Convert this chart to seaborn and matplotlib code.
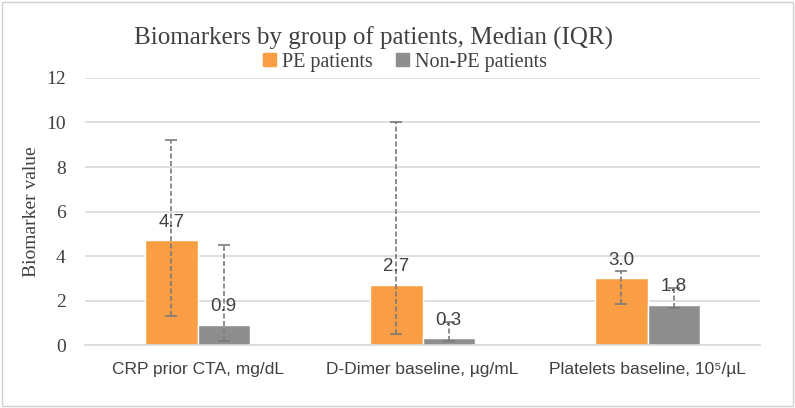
import matplotlib
matplotlib.use("Agg")
import matplotlib.pyplot as plt
import seaborn as sns
import pandas as pd
import numpy as np
from matplotlib.patches import Patch

categories = ["CRP prior CTA, mg/dL", "D-Dimer baseline, µg/mL", "Platelets baseline, 10⁵/µL"]
groups = ["PE patients", "Non-PE patients"]
pe_median = [4.7, 2.7, 3.0]
nonpe_median = [0.9, 0.3, 1.8]
pe_q1 = [1.3, 0.5, 1.85]
pe_q3 = [9.2, 10.0, 3.35]
nonpe_q1 = [0.2, 0.2, 1.65]
nonpe_q3 = [4.5, 1.05, 2.55]
yticks = [0, 2, 4, 6, 8, 10, 12]

sns.set_theme(style="white")
plt.rcParams['font.family'] = ['Liberation Sans', 'DejaVu Sans']

df = pd.DataFrame({
    "category": categories * 2,
    "group": [groups[0]] * 3 + [groups[1]] * 3,
    "value": pe_median + nonpe_median,
})

fig = plt.figure(figsize=(7.95, 4.08), dpi=100)
ax = fig.add_axes([0.107, 0.154, 0.849, 0.655])

palette = {"PE patients": "#F99E44", "Non-PE patients": "#8E8E8E"}
sns.barplot(data=df, x="category", y="value", hue="group", order=categories,
            hue_order=groups, palette=palette, width=0.465, ax=ax,
            legend=False, saturation=1, errorbar=None)

lows = [pe_q1, nonpe_q1]
highs = [pe_q3, nonpe_q3]
meds = [pe_median, nonpe_median]
bar_containers = list(ax.containers)
for gi, cont in enumerate(bar_containers):
    for ci, bar in enumerate(cont.patches):
        xc = bar.get_x() + bar.get_width() / 2
        m = meds[gi][ci]
        lo, hi = lows[gi][ci], highs[gi][ci]
        eb = ax.errorbar([xc], [m], yerr=[[m - lo], [hi - m]], fmt="none",
                         ecolor="#7A7A7A", elinewidth=1.2, capsize=4, capthick=1.2, zorder=4)
        for lc in eb[2]:
            lc.set_linestyle((0, (3, 1.5)))
        ax.annotate(f"{m:.1f}", (xc, m), xytext=(0, 7), textcoords="offset points",
                    ha="center", va="bottom", fontsize=13.5, color="#404040", zorder=5)

ax.set_ylim(0, 12)
ax.set_xlim(-0.5, 2.5)
ax.set_yticks(yticks)
ax.set_yticklabels([str(t) for t in yticks], family=['Liberation Serif', 'DejaVu Serif'],
                   fontsize=14, color="#404040")
ax.set_xticks(range(3))
ax.set_xticklabels(categories, fontsize=12.5, color="#404040")
ax.tick_params(axis="both", length=0)
ax.tick_params(axis="y", pad=14)
ax.tick_params(axis="x", pad=12)
ax.grid(axis="y", color="#D9D9D9", linewidth=1.2)
ax.set_axisbelow(True)
for s in ["top", "right", "left"]:
    ax.spines[s].set_visible(False)
ax.spines["bottom"].set_color("#D9D9D9")
ax.spines["bottom"].set_linewidth(1.2)
ax.set_xlabel("")
ax.set_ylabel("Biomarker value", family=['Liberation Serif', 'DejaVu Serif'],
              fontsize=14, color="#404040", labelpad=4)

fig.text(373 / 795, 1 - 38 / 408, "Biomarkers by group of patients, Median (IQR)",
         ha="center", va="center", fontsize=18, color="#404040",
         family=['Liberation Serif', 'DejaVu Serif'])

handles = [Patch(color=palette[g]) for g in groups]
leg = fig.legend(handles, groups, loc="center", bbox_to_anchor=(405 / 795, 1 - 62 / 408),
                 ncol=2, frameon=False, handlelength=0.6, handleheight=0.6,
                 handletextpad=0.3, columnspacing=1.2,
                 prop={'family': ['Liberation Serif', 'DejaVu Serif'], 'size': 14.5})
for t in leg.get_texts():
    t.set_color("#404040")

fig.patches.append(plt.Rectangle((0.003, 0.005), 0.994, 0.99, transform=fig.transFigure,
                                 fill=False, edgecolor="#D0D0D0", linewidth=1))

fig.savefig("out.png", dpi=100)
